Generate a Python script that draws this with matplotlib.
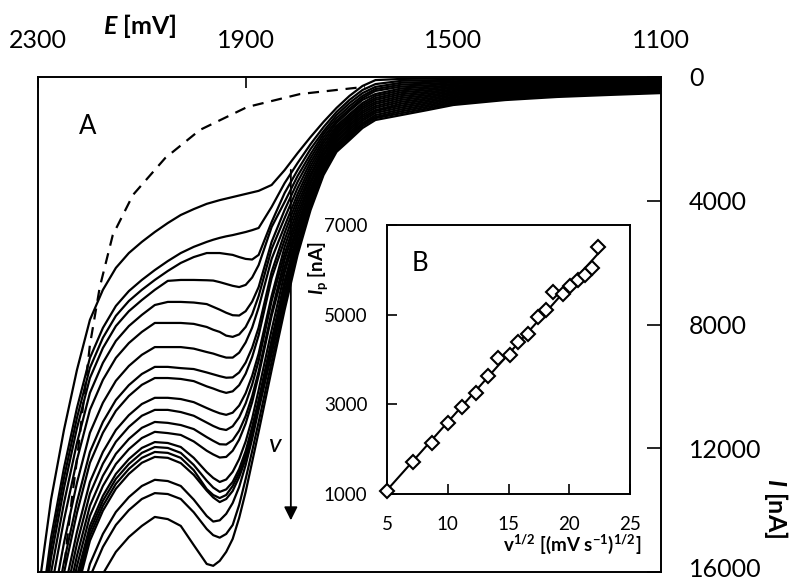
import numpy as np
import matplotlib
matplotlib.use('Agg')
import matplotlib.pyplot as plt
import matplotlib.transforms as mtransforms

plt.rcParams['font.family'] = 'Lato'
plt.rcParams['mathtext.fontset'] = 'custom'
plt.rcParams['mathtext.rm'] = 'Lato'
plt.rcParams['mathtext.it'] = 'Lato:italic:bold'
plt.rcParams['mathtext.bf'] = 'Lato:bold'

# potential (mV), common to all voltammograms
E = [2300, 2275, 2250, 2225, 2200, 2175, 2150, 2125, 2100, 2075, 2050, 2025,
     2000, 1975, 1962.5, 1950, 1937.5, 1925, 1912.5, 1900, 1887.5, 1875,
     1850, 1825, 1800, 1775, 1750, 1725, 1700, 1675, 1650, 1600, 1550, 1500,
     1400, 1300, 1200, 1100]

# current (nA), slowest scan first
I_1 = [16740, 13670, 11410, 9470, 7850, 6880, 6170, 5690, 5330, 5010, 4720, 4460,
       4270, 4100, 4040, 3980, 3930, 3880, 3830, 3780, 3730, 3680,
       3490, 3010, 2460, 1940, 1450, 1000, 610, 290, 100, 62, 54, 45, 37, 32, 29, 26]
I_2 = [17970, 14900, 12640, 10700, 9080, 8110, 7400, 6920, 6560, 6240, 5950, 5690,
       5490, 5330, 5260, 5200, 5150, 5110, 5060, 5010, 4950, 4880,
       4200, 3430, 2780, 2170, 1620, 1130, 740, 420, 230, 123, 107, 91, 75, 65, 58, 52]
I_3 = [18290, 15220, 12960, 11020, 9400, 8430, 7720, 7240, 6880, 6560, 6270, 6010,
       5820, 5690, 5690, 5690, 5720, 5750, 5820, 5880, 5900, 5750,
       4690, 3750, 3010, 2330, 1750, 1230, 840, 520, 320, 185, 161, 136, 112, 97, 87, 78]
I_4 = [18620, 15550, 13290, 11350, 9730, 8760, 8050, 7570, 7210, 6880, 6590, 6560,
       6560, 6570, 6580, 6630, 6690, 6750, 6790, 6720, 6480, 6080,
       4850, 4040, 3200, 2490, 1840, 1330, 940, 610, 390, 246, 214, 181, 149, 129, 116, 104]
I_5 = [19100, 16030, 13770, 11830, 10210, 9240, 8530, 8050, 7690, 7370, 7270, 7270,
       7290, 7340, 7430, 7520, 7620, 7700, 7710, 7570, 7260, 6790,
       5330, 4300, 3390, 2620, 1940, 1420, 1030, 680, 450, 308, 268, 226, 186, 161, 145, 130]
I_6 = [19650, 16580, 14320, 12380, 10760, 9790, 9080, 8600, 8240, 7950, 7950, 7950,
       7980, 8080, 8170, 8240, 8360, 8400, 8320, 8080, 7670, 7080,
       5560, 4560, 3590, 2750, 2040, 1490, 1100, 740, 550, 369, 321, 272, 224, 194, 174, 156]
I_7 = [20390, 17320, 15060, 13120, 11500, 10530, 9820, 9340, 8980, 8730, 8730, 8730,
       8780, 8890, 8940, 9010, 9070, 9070, 8910, 8580, 8100, 7450,
       5880, 4820, 3780, 2880, 2130, 1580, 1200, 840, 610, 431, 375, 317, 261, 226, 203, 182]
I_8 = [21010, 17940, 15680, 13740, 12120, 11150, 10440, 9960, 9600, 9370, 9370, 9410,
       9440, 9550, 9610, 9670, 9720, 9710, 9550, 9230, 8750, 8100,
       6300, 5040, 3940, 3010, 2230, 1650, 1260, 905, 680, 492, 428, 362, 298, 258, 232, 208]
I_9 = [21360, 18290, 16030, 14090, 12470, 11500, 10790, 10310, 9950, 9730, 9730, 9760,
       9830, 10000, 10070, 10150, 10210, 10160, 9960, 9590, 9050, 8350,
       6500, 5270, 4100, 3140, 2330, 1710, 1330, 970, 740, 554, 482, 407, 335, 290, 261, 234]
I_10 = [21980, 18910, 16650, 14710, 13090, 12120, 11410, 10930, 10570, 10370, 10370, 10410,
        10510, 10700, 10790, 10870, 10920, 10850, 10620, 10220, 9660, 8940,
        7080, 5490, 4270, 3230, 2390, 1780, 1390, 1030, 810, 615, 535, 453, 373, 323, 290, 260]
I_11 = [22360, 19290, 17030, 15090, 13470, 12500, 11790, 11310, 10950, 10760, 10760, 10830,
        10950, 11170, 11280, 11370, 11410, 11290, 11000, 10550, 9940, 9170,
        7240, 5720, 4430, 3360, 2490, 1840, 1450, 1100, 870, 677, 589, 498, 410, 355, 319, 286]
I_12 = [22750, 19680, 17420, 15480, 13860, 12890, 12180, 11700, 11340, 11150, 11180, 11250,
        11380, 11640, 11760, 11870, 11880, 11740, 11430, 10960, 10320, 9520,
        7600, 5910, 4590, 3460, 2550, 1910, 1520, 1160, 940, 738, 642, 543, 447, 387, 348, 312]
I_13 = [23080, 20010, 17750, 15810, 14190, 13220, 12510, 12030, 11670, 11470, 11510, 11570,
        11780, 12080, 12200, 12300, 12280, 12080, 11720, 11200, 10510, 9640,
        7720, 6140, 4750, 3590, 2650, 1970, 1580, 1230, 1000, 800, 696, 588, 484, 419, 377, 338]
I_14 = [23400, 20330, 18070, 16130, 14510, 13540, 12830, 12350, 11990, 11800, 11830, 11960,
        12310, 12770, 12960, 13090, 13010, 12760, 12350, 11780, 11040, 10120,
        8180, 6330, 4880, 3680, 2710, 2040, 1650, 1290, 1070, 861, 749, 634, 522, 452, 406, 364]
I_15 = [23560, 20490, 18230, 16290, 14670, 13700, 12990, 12510, 12150, 11960, 11990, 12150,
        12540, 13050, 13270, 13410, 13330, 13090, 12670, 12090, 11310, 10440,
        8500, 6590, 5040, 3780, 2780, 2100, 1710, 1360, 1100, 923, 803, 679, 559, 484, 435, 390]
I_16 = [23720, 20650, 18390, 16450, 14830, 13860, 13150, 12670, 12310, 12120, 12150, 12310,
        12710, 13320, 13510, 13610, 13510, 13220, 12800, 12220, 11410, 10540,
        8560, 6750, 5170, 3880, 2880, 2170, 1780, 1420, 1160, 984, 856, 724, 596, 516, 464, 416]
I_17 = [23880, 20810, 18550, 16610, 14990, 14020, 13310, 12830, 12470, 12280, 12310, 12480,
        12860, 13370, 13590, 13740, 13640, 13380, 12930, 12350, 11540, 10600,
        8760, 6950, 5330, 4010, 2940, 2230, 1840, 1490, 1230, 1046, 910, 769, 633, 548, 493, 442]
I_18 = [24630, 21560, 19300, 17360, 15740, 14770, 14060, 13580, 13220, 13020, 13060, 13220,
        13660, 14190, 14370, 14330, 14120, 13770, 13250, 12540, 11700, 10760,
        8950, 7140, 5460, 4100, 3010, 2290, 1910, 1520, 1290, 1107, 963, 815, 671, 581, 522, 468]
I_19 = [25050, 21980, 19720, 17780, 16160, 15190, 14480, 14000, 13640, 13450, 13480, 13640,
        14070, 14610, 14810, 14890, 14770, 14480, 13830, 12990, 12090, 11150,
        9210, 7340, 5620, 4200, 3100, 2360, 1970, 1580, 1330, 1169, 1017, 860, 708, 613, 551, 494]
I_20 = [25920, 22850, 20590, 18650, 17030, 16060, 15350, 14870, 14510, 14220, 14290, 14510,
        15130, 15740, 15800, 15640, 15350, 14930, 14250, 13410, 12440, 11470,
        9470, 7530, 5750, 4300, 3170, 2420, 2040, 1650, 1390, 1230, 1070, 905, 745, 645, 580, 520]

# blank (dashed)
E_blank = [2254, 2250, 2244, 2235, 2225, 2213, 2200, 2181, 2156, 2117, 2055, 1988, 1897, 1795, 1693, 1670]
I_blank = [16580, 16000, 14970, 13670, 12380, 10600, 8660, 6790, 5110, 3810, 2620, 1710, 970, 550, 360, 320]

# inset B: peak current vs square root of scan rate
sqrt_v = [5.0, 7.1, 8.7, 10.0, 11.2, 12.3, 13.3, 14.1, 15.1, 15.8, 16.6, 17.4, 18.1, 18.7, 19.5, 20.1, 20.7, 21.3, 21.9, 22.4]
Ip = [1070, 1720, 2130, 2590, 2950, 3260, 3630, 4030, 4090, 4390, 4560, 4950, 5100, 5510, 5460, 5640, 5770, 5880, 6030, 6510]

curves = [I_1, I_2, I_3, I_4, I_5, I_6, I_7, I_8, I_9, I_10,
          I_11, I_12, I_13, I_14, I_15, I_16, I_17, I_18, I_19, I_20]

fig = plt.figure(figsize=(7.92, 5.81), dpi=100)
W, H = 792.0, 581.0

ax = fig.add_axes([38 / W, 1 - 572 / H, 623 / W, 495 / H])
for I in curves:
    ax.plot(E, I, color='black', lw=1.6, solid_joinstyle='round')
ax.plot(E_blank, I_blank, color='black', lw=1.6, ls=(0, (5, 3.5)))

ax.set_xlim(2300, 1100)
ax.set_ylim(16000, 0)
ax.xaxis.tick_top()
ax.yaxis.tick_right()
ax.set_xticks([2300, 1900, 1500, 1100])
ax.set_yticks([0, 4000, 8000, 12000, 16000])
ax.tick_params(axis='x', direction='in', length=8, width=1.2, labelsize=18, pad=18)
ax.tick_params(axis='y', direction='in', length=10, width=1.2, labelsize=18, pad=20)
for s in ax.spines.values():
    s.set_linewidth(1.4)
# lift the bottom label a little so it stays inside the picture
last = ax.yaxis.get_major_ticks()[-1].label2
last.set_transform(last.get_transform() +
                   mtransforms.ScaledTranslation(0, 3 / 72, fig.dpi_scale_trans))

fig.text(140 / W, 1 - 26 / H, r'$\mathit{E}$ [mV]', fontsize=18, fontweight='bold',
         ha='center', va='center')
fig.text(776 / W, 1 - 508 / H, r'$\mathit{I}$ [nA]', fontsize=18, fontweight='bold',
         rotation=270, ha='center', va='center')

ax.text(2204, 1616, 'A', fontsize=18.5, ha='center', va='center')
ax.annotate('', xy=(1813, 14330), xytext=(1813, 3000),
            arrowprops=dict(arrowstyle='-|>', color='black', lw=1.3,
                            mutation_scale=20, shrinkA=0, shrinkB=0))
ax.text(1844, 11890, 'v', fontsize=19, style='italic', ha='center', va='center')

# inset
axin = fig.add_axes([387 / W, 1 - 494 / H, 243 / W, 269 / H])
fit = np.polyfit(sqrt_v, Ip, 1)
xf = np.array([sqrt_v[0], sqrt_v[-1]])
axin.plot(xf, np.polyval(fit, xf), color='black', lw=1.5, zorder=2)
axin.plot(sqrt_v, Ip, 'D', ms=7, mfc='white', mec='black', mew=1.5, zorder=3,
          clip_on=False)
axin.set_xlim(5, 25)
axin.set_ylim(1000, 7000)
axin.set_xticks([5, 10, 15, 20, 25])
axin.set_yticks([1000, 3000, 5000, 7000])
axin.tick_params(direction='in', length=7, width=1.2, labelsize=13.5, pad=14)
axin.tick_params(axis='x', pad=16)
for s in axin.spines.values():
    s.set_linewidth(1.4)
axin.text(7.7, 6150, 'B', fontsize=18.5, ha='center', va='center')

fig.text(572 / W, 1 - 544 / H,
         r'$\mathbf{v}^{\mathbf{1/2}}$ [(mV s$^{\mathbf{-1}}$)$^{\mathbf{1/2}}$]',
         fontsize=13.5, fontweight='bold', ha='center', va='center')
fig.text(318 / W, 1 - 268 / H, r'$\mathit{I}_{\mathbf{p}}$ [nA]', fontsize=13.5,
         fontweight='bold', rotation=90, ha='center', va='center')

fig.savefig('out.png', dpi=100)
